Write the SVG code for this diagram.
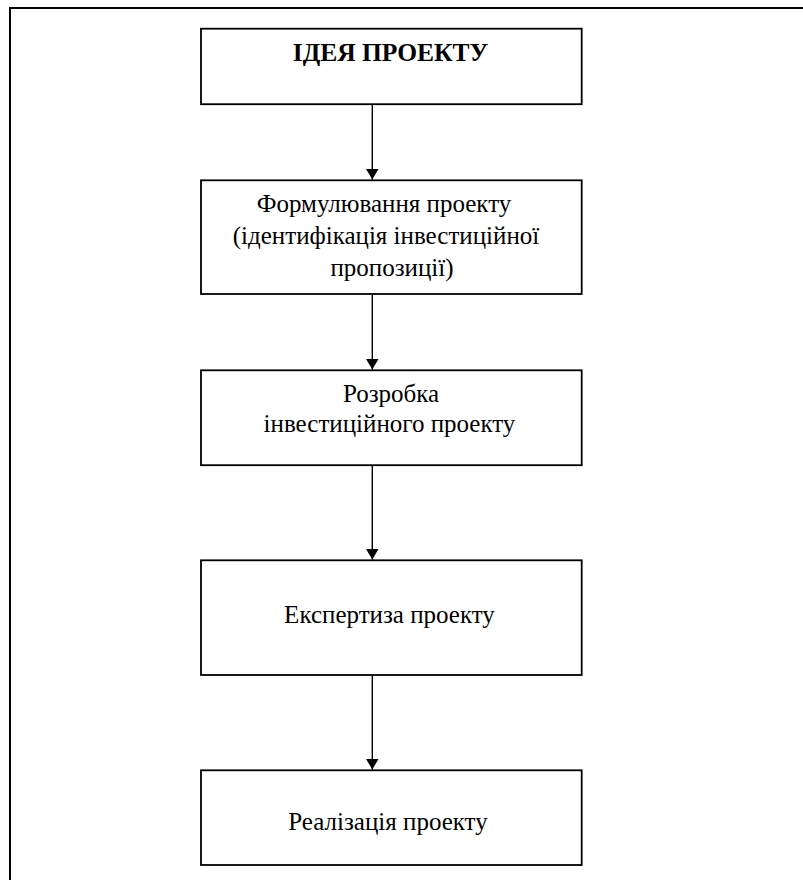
<svg xmlns="http://www.w3.org/2000/svg" width="803" height="880" viewBox="0 0 803 880">
  <style>
    .frame { fill: none; stroke: #000; stroke-width: 2; }
    .box { fill: #fff; stroke: #000; stroke-width: 1.8; }
    .txt { font-family: "Liberation Serif", "Times New Roman", serif; font-size: 25px; fill: #000; text-anchor: middle; }
    .bold { font-weight: bold; font-size: 25.5px; }
    .conn { stroke: #000; stroke-width: 1.4; fill: none; }
  </style>
  <defs>
    <marker id="arrow" markerUnits="userSpaceOnUse" markerWidth="14" markerHeight="14" refX="11" refY="6.5" orient="auto">
      <path d="M0,0 L11,6.5 L0,13 Z" fill="#000"/>
    </marker>
  </defs>
  <rect x="0" y="0" width="803" height="880" fill="#fff"/>
  <rect id="frame" class="frame" x="10" y="8" width="800" height="880"/>

  <g id="connectors">
    <line class="conn" x1="372.3" y1="104.5" x2="372.3" y2="179.5" marker-end="url(#arrow)"/>
    <line class="conn" x1="372.3" y1="294.5" x2="372.3" y2="369.5" marker-end="url(#arrow)"/>
    <line class="conn" x1="372.3" y1="465.5" x2="372.3" y2="559.5" marker-end="url(#arrow)"/>
    <line class="conn" x1="372.3" y1="675.5" x2="372.3" y2="769.5" marker-end="url(#arrow)"/>
  </g>

  <g id="node1">
    <rect class="box" x="201" y="28.7" width="380.7" height="75.5"/>
    <text class="txt bold" x="390.5" y="61">ІДЕЯ ПРОЕКТУ</text>
  </g>
  <g id="node2">
    <rect class="box" x="201" y="180.3" width="380.7" height="113.7"/>
    <text class="txt" x="384" y="212.3">Формулювання проекту</text>
    <text class="txt" x="386" y="244">(ідентифікація інвестиційної</text>
    <text class="txt" x="392" y="275.5">пропозиції)</text>
  </g>
  <g id="node3">
    <rect class="box" x="201" y="370.3" width="380.7" height="94.9"/>
    <text class="txt" x="391" y="401.7">Розробка</text>
    <text class="txt" x="389.5" y="432.3">інвестиційного проекту</text>
  </g>
  <g id="node4">
    <rect class="box" x="201" y="560.3" width="380.7" height="114.7"/>
    <text class="txt" x="389.5" y="622.7">Експертиза проекту</text>
  </g>
  <g id="node5">
    <rect class="box" x="201" y="770.3" width="380.7" height="94.7"/>
    <text class="txt" x="388" y="830">Реалізація проекту</text>
  </g>
</svg>
